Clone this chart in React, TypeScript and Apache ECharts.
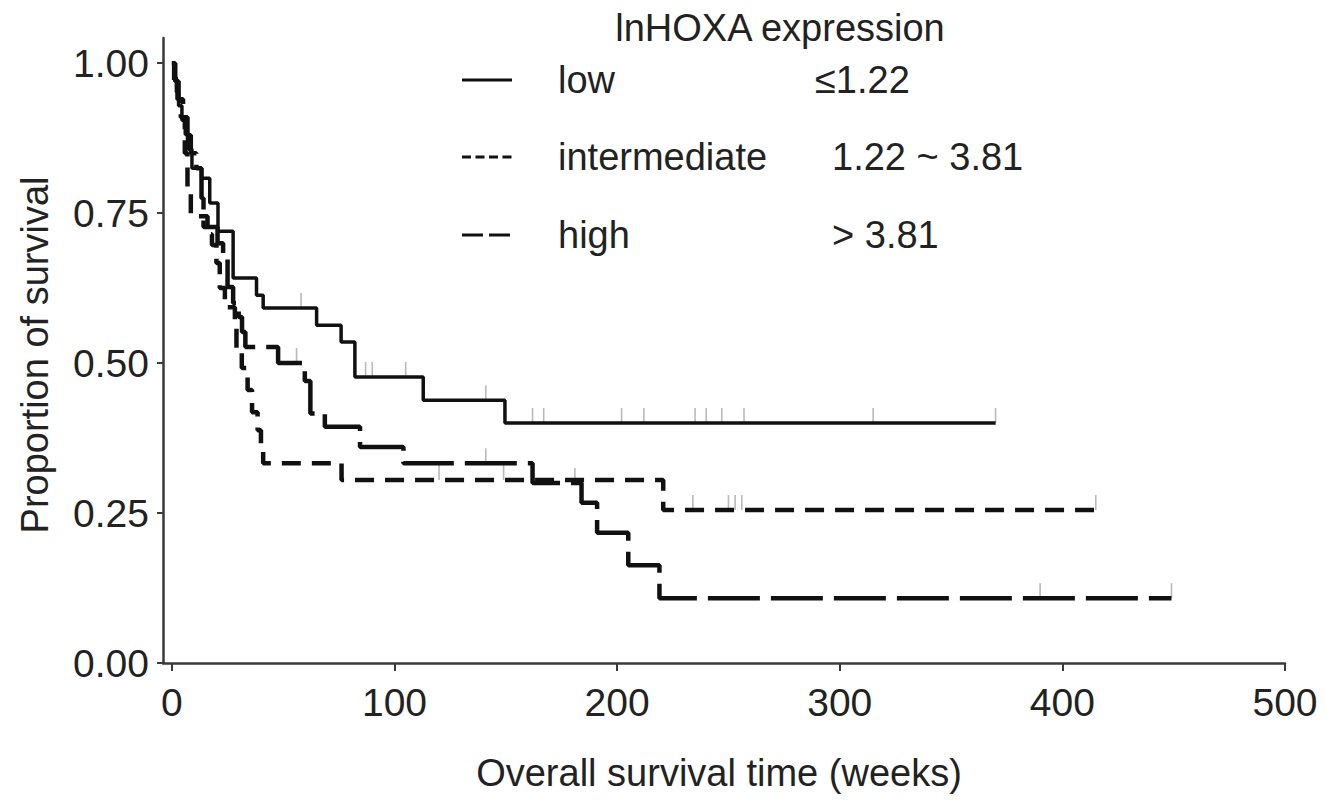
import React, { useEffect, useRef } from "react";
import * as echarts from "echarts";

// Kaplan–Meier step data (time in weeks, proportion surviving)
const lowTime = [0, 1, 2, 3, 4.5, 6, 7, 9, 13.3, 17, 20.7, 27.5, 38, 41, 65, 76, 82.2, 112.9, 149.6, 370];
const lowSurv = [1.0, 0.976, 0.952, 0.929, 0.905, 0.881, 0.857, 0.825, 0.808, 0.767, 0.72, 0.642, 0.613, 0.592, 0.563, 0.535, 0.477, 0.438, 0.4, 0.4];

const intTime = [0, 1, 2.5, 4, 5.8, 7, 8.5, 16, 18, 20, 21.5, 23.8, 28.3, 29, 31.4, 34, 36, 38.5, 40, 41, 76.2, 220.7, 415];
const intSurv = [1.0, 0.97, 0.94, 0.91, 0.85, 0.79, 0.745, 0.715, 0.697, 0.667, 0.625, 0.593, 0.567, 0.522, 0.492, 0.455, 0.418, 0.388, 0.36, 0.333, 0.305, 0.255, 0.255];

const highTime = [0, 1.5, 3, 5, 7, 8.5, 11, 13.3, 14.2, 20.5, 23, 25, 27.5, 30, 31.5, 33, 47.7, 59.7, 62.2, 68.7, 84.5, 104, 162, 184, 191, 205, 219, 449];
const highSurv = [1.0, 0.97, 0.94, 0.91, 0.88, 0.85, 0.825, 0.775, 0.727, 0.7, 0.675, 0.627, 0.6, 0.577, 0.552, 0.527, 0.5, 0.47, 0.416, 0.394, 0.36, 0.333, 0.3, 0.267, 0.217, 0.163, 0.108, 0.108];

// censoring times
const lowCensor = [58, 87, 90, 105, 141, 162, 167, 202, 212, 235, 240, 247, 257, 315, 370];
const intCensor = [120, 149, 234, 250, 253, 256, 415];
const highCensor = [56, 141, 181, 390, 449];

const xTicks = [0, 100, 200, 300, 400, 500];
const yTicks = [0, 0.25, 0.5, 0.75, 1.0];

const legendTitle = "lnHOXA expression";
const groupNames = ["low", "intermediate", "high"];
const groupRanges = ["≤1.22", "1.22 ~ 3.81", "> 3.81"];

const FONT = "'Liberation Sans', Arial, Helvetica, sans-serif";
const TEXT = "#222";
const LINE = "#111";

function survAt(times: number[], surv: number[], t: number) {
  let s = surv[0];
  for (let i = 0; i < times.length; i++) if (times[i] <= t) s = surv[i];
  return s;
}

export default function App() {
  const ref = useRef<HTMLDivElement>(null);
  useEffect(() => {
    if (!ref.current) return;
    const chart = echarts.init(ref.current, null, { renderer: "svg" });
    const pairs = (t: number[], s: number[]) => t.map((v, i) => [v, s[i]]);
    const lineSeries = (name: string, t: number[], s: number[], type: any, width: number) => ({
      type: "line",
      name,
      data: pairs(t, s),
      step: "end",
      symbol: "none",
      lineStyle: { color: LINE, width, type, cap: "butt" },
      z: 3,
      silent: true,
    });
    const censorSeries = (name: string, t: number[], s: number[], c: number[]) => ({
      type: "scatter",
      name,
      data: c.map((v) => [v, survAt(t, s, v)]),
      symbol: "rect",
      symbolSize: [1.6, 15],
      symbolOffset: [0, -7.5],
      itemStyle: { color: "#a8a8a8" },
      z: 2,
      silent: true,
    });
    const axisColor = "#3a3a3a";
    chart.setOption({
      animation: false,
      backgroundColor: "#fff",
      grid: { left: 163, right: 42, top: 38, bottom: 137, containLabel: false },
      xAxis: {
        type: "value",
        min: -4,
        max: 500,
        axisLine: { show: true, onZero: false, lineStyle: { color: axisColor, width: 2.5 } },
        axisTick: { show: true, customValues: xTicks, length: 8, lineStyle: { color: axisColor, width: 2 } },
        axisLabel: { customValues: xTicks, fontSize: 39, color: TEXT, fontFamily: FONT, margin: 20 },
        splitLine: { show: false },
      },
      yAxis: {
        type: "value",
        min: 0,
        max: 1.042,
        axisLine: { show: true, onZero: false, lineStyle: { color: axisColor, width: 2.5 } },
        axisTick: { show: true, customValues: yTicks, length: 6, lineStyle: { color: axisColor, width: 2 } },
        axisLabel: {
          customValues: yTicks,
          fontSize: 39,
          color: TEXT,
          fontFamily: FONT,
          margin: 14,
          formatter: (v: number) => v.toFixed(2),
        },
        splitLine: { show: false },
      },
      series: [
        censorSeries("low censored", lowTime, lowSurv, lowCensor),
        censorSeries("intermediate censored", intTime, intSurv, intCensor),
        censorSeries("high censored", highTime, highSurv, highCensor),
        lineSeries(groupNames[0], lowTime, lowSurv, "solid", 3.5),
        lineSeries(groupNames[1], intTime, intSurv, [19, 11], 4.5),
        lineSeries(groupNames[2], highTime, highSurv, [52, 11], 4.5),
      ],
      graphic: [
        {
          type: "text",
          x: 780,
          y: 28,
          style: { text: legendTitle, fontSize: 38, fontFamily: FONT, fill: TEXT, align: "center", verticalAlign: "middle" },
        },
        ...[80, 157, 235].flatMap((y, i) => [
          {
            type: "line",
            shape: { x1: 462, y1: y, x2: 512, y2: y },
            style: { stroke: LINE, lineWidth: 3, lineDash: i === 0 ? null : i === 1 ? [9, 4.5] : [21, 6] },
          },
          {
            type: "text",
            x: 558,
            y,
            style: { text: groupNames[i], fontSize: 38, fontFamily: FONT, fill: TEXT, align: "left", verticalAlign: "middle" },
          },
          {
            type: "text",
            x: i === 0 ? 815 : 832,
            y,
            style: { text: groupRanges[i], fontSize: 38, fontFamily: FONT, fill: TEXT, align: "left", verticalAlign: "middle" },
          },
        ]),
        {
          type: "text",
          x: 719,
          y: 773,
          style: { text: "Overall survival time (weeks)", fontSize: 38, fontFamily: FONT, fill: TEXT, align: "center", verticalAlign: "middle" },
        },
        {
          type: "text",
          x: 35,
          y: 355,
          rotation: Math.PI / 2,
          style: { text: "Proportion of survival", fontSize: 38, fontFamily: FONT, fill: TEXT, align: "center", verticalAlign: "middle" },
        },
      ],
    });
    return () => chart.dispose();
  }, []);
  return (
    <div
      ref={ref}
      style={{ position: "fixed", left: 0, top: 0, width: 1327, height: 800, background: "#fff" }}
    />
  );
}
